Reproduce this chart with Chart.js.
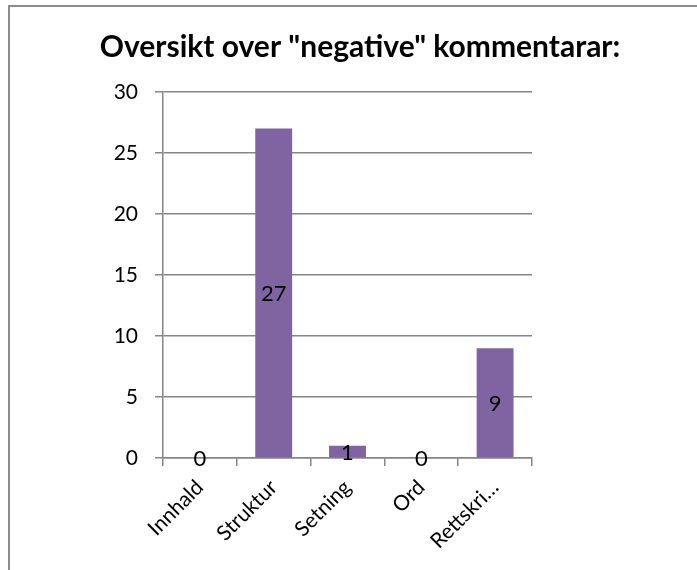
<!DOCTYPE html>
<html>
<head>
<meta charset="utf-8">
<script src="https://cdn.jsdelivr.net/npm/chart.js@4"></script>
<style>
    html, body { margin: 0; padding: 0; background: #fff; }
    #frame { position: absolute; left: 8px; top: 5px; width: 700px; height: 580px; border-left: 2px solid #8c8c8c; border-top: 2px solid #8c8c8c; }
    #wrap { position: absolute; left: 0; top: 0; width: 697px; height: 570px; }
</style>
</head>
<body>
<div id="frame"></div>
<div id="wrap"><canvas id="chart_graph"></canvas></div>
<script>
// Data
    const categories = ['Innhald', 'Struktur', 'Setning', 'Ord', 'Rettskriving'];
    const values = [0, 27, 1, 0, 9];
    const yTicks = [0, 5, 10, 15, 20, 25, 30];
    const titleText = 'Oversikt over "negative" kommentarar:';

// Title and labels inside the bars
    const extras =
    {
        id: 'extras'
        ,afterDatasetsDraw: (chart) =>
        {
            const ctx = chart.ctx;
            const meta = chart.getDatasetMeta(0);
            ctx.save();
            ctx.fillStyle = '#000';
            ctx.textAlign = 'center';

            // title
            ctx.font = 'bold 30px Lato';
            ctx.textBaseline = 'alphabetic';
            ctx.fillText(titleText, 360, 57);

            // values
            ctx.font = '22px Lato';
            ctx.textBaseline = 'middle';
            meta.data.forEach((bar, i) =>
            {
                const y = (bar.y + bar.base) / 2;
                ctx.fillText(String(values[i]), bar.x, y + 1);
            });
            ctx.restore();
        }
    };

// Chart
    const createChart = () =>
    {
        const ctx = document.getElementById('chart_graph');

        new Chart(ctx,
        {
            type: 'bar'
            ,data: {
                labels: categories
                ,datasets:
                [
                    {
                        label: 'Kommentarar'
                        ,data: values
                        ,backgroundColor: '#8064A2'
                        ,barPercentage: 0.5
                        ,categoryPercentage: 1
                    }
                ]
            }
            ,options:
            {
                responsive: true
                ,maintainAspectRatio: false
                ,animation: false
                ,layout: {padding: {left: 0, right: 165, top: 92, bottom: 0}}
                ,plugins:
                {
                    legend: {display: false}
                    ,tooltip: {enabled: false}
                    ,title: {display: false}
                }
                ,scales:
                {
                    x: {
                        offset: true
                        ,grid: {display: true, drawOnChartArea: false, drawTicks: true, tickLength: 8, color: '#868686', lineWidth: 1.5, offset: true}
                        ,border: {display: true, color: '#868686', width: 1.5}
                        ,ticks: {
                            color: '#000'
                            ,font: {family: 'Lato', size: 21}
                            ,maxRotation: 45
                            ,minRotation: 45
                            ,padding: 9
                            ,callback: function (v) {
                                const t = this.getLabelForValue(v);
                                return t.length > 9 ? t.slice(0, 8) + '…' : t;
                            }
                        }
                        ,afterFit: (s) => { s.height = 112; }
                    }
                    ,y: {
                        min: 0
                        ,max: 30
                        ,afterBuildTicks: (s) => { s.ticks = yTicks.map(v => ({value: v})); }
                        ,grid: {color: '#868686', lineWidth: 1.5, tickLength: 8}
                        ,border: {display: true, color: '#868686', width: 1.5}
                        ,ticks: {color: '#000', font: {family: 'Lato', size: 21}, padding: 17}
                        ,afterFit: (s) => { s.width = 163; }
                    }
                }
            }
            ,plugins: [extras]
        });
    };
    createChart();
</script>
</body>
</html>
